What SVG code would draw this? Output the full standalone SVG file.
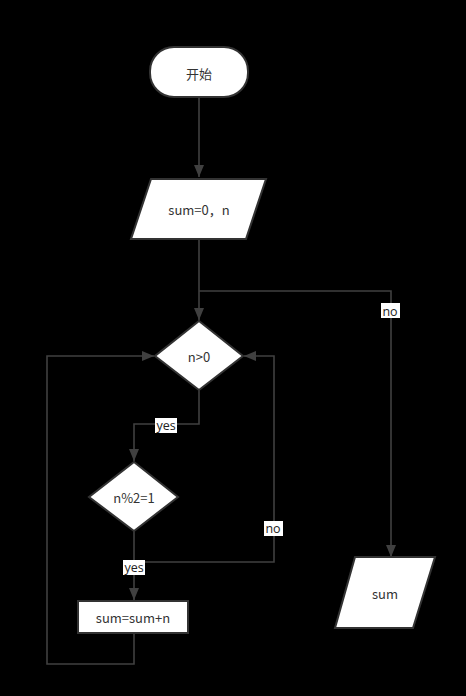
<svg xmlns="http://www.w3.org/2000/svg" width="466" height="696" viewBox="0 0 466 696">
<style>
.shape{fill:#fff;stroke:#333;stroke-width:2}
.t{font-family:"Noto Sans CJK SC","Open Sans",sans-serif;font-size:13px;fill:#333;text-anchor:middle;dominant-baseline:central}
.edge{fill:none;stroke:#404040;stroke-width:1.6}
.lb{fill:#fff}
.lt{font-family:"Open Sans","Noto Sans",sans-serif;font-size:12.5px;fill:#222;text-anchor:middle;dominant-baseline:central}
</style>
<defs>
<marker id="arr" viewBox="0 0 12 10" refX="12" refY="5" markerWidth="12" markerHeight="10" markerUnits="userSpaceOnUse" orient="auto">
<path d="M0,0 L12,5 L0,10 Z" fill="#404040"/>
</marker>
</defs>
<rect width="466" height="696" fill="#000"/>
<g id="connectors">
<path class="edge" d="M199,98 V177" marker-end="url(#arr)"/>
<path class="edge" d="M199,239 V320" marker-end="url(#arr)"/>
<path class="edge" d="M199,291 H391 V557" marker-end="url(#arr)"/>
<path class="edge" d="M199,390 V424 H134 V461" marker-end="url(#arr)"/>
<path class="edge" d="M134,531 V600" marker-end="url(#arr)"/>
<path class="edge" d="M134,562 H274 V356 H244" marker-end="url(#arr)"/>
<path class="edge" d="M134,633 V664 H47 V356 H154" marker-end="url(#arr)"/>
<g id="label-no1"><rect class="lb" x="381" y="303" width="19" height="15"/><text class="lt" x="390" y="311">no</text></g>
<g id="label-yes1"><rect class="lb" x="155" y="418" width="22" height="15"/><text class="lt" x="166" y="425">yes</text></g>
<g id="label-no2"><rect class="lb" x="264" y="521" width="19" height="15"/><text class="lt" x="273" y="528">no</text></g>
<g id="label-yes2"><rect class="lb" x="123" y="560" width="22" height="15"/><text class="lt" x="134" y="567">yes</text></g>
</g>
<g id="start"><rect class="shape" x="150" y="47" width="98" height="50" rx="24"/><text class="t" x="199" y="73">开始</text></g>
<g id="input"><polygon class="shape" points="151,179 266,179 246,239 131,239"/><text class="t" x="199" y="209">sum=0，n</text></g>
<g id="cond1"><polygon class="shape" points="199,321 243,356 199,390 155,356"/><text class="t" x="199" y="356">n&gt;0</text></g>
<g id="cond2"><polygon class="shape" points="134,462 178,497 134,531 89,497"/><text class="t" x="134" y="497">n%2=1</text></g>
<g id="add"><rect class="shape" x="78" y="601" width="110" height="32"/><text class="t" x="133" y="617">sum=sum+n</text></g>
<g id="output"><polygon class="shape" points="355,557 435,557 413,628 335,628"/><text class="t" x="385" y="593">sum</text></g>
</svg>
